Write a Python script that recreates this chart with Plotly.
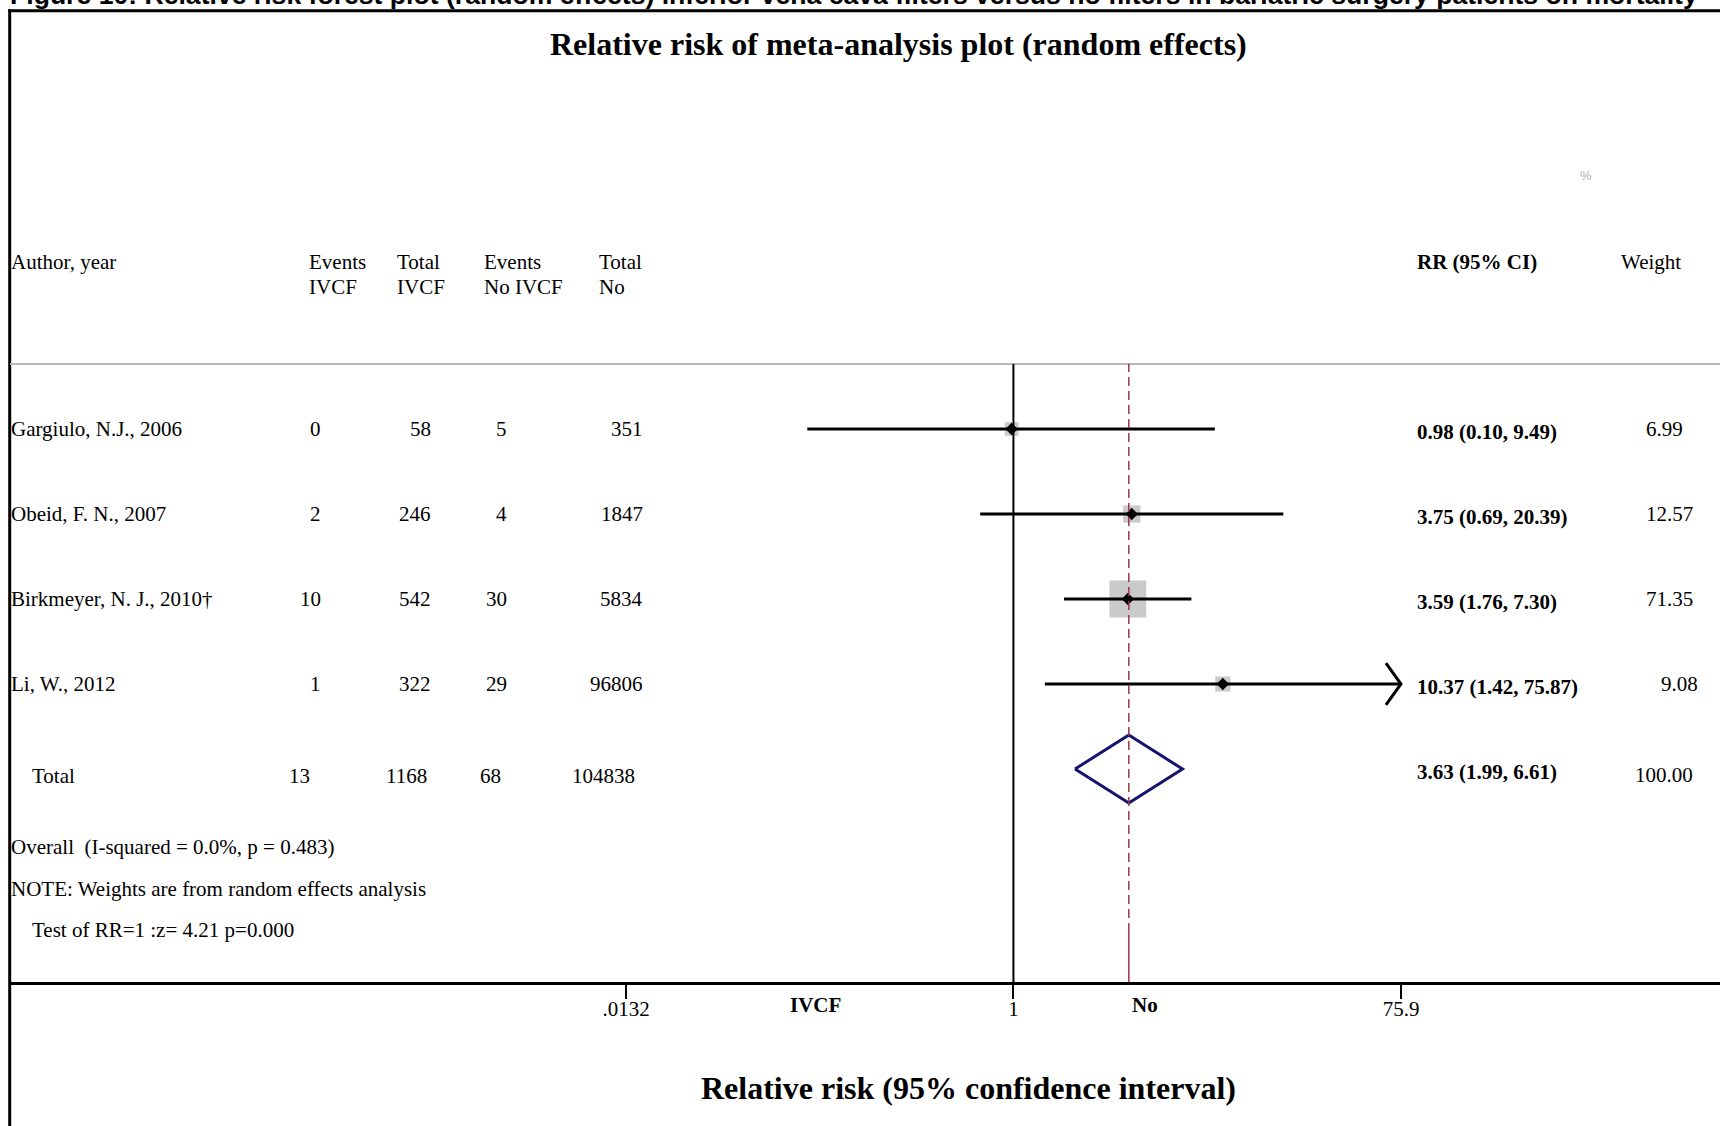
import math
import plotly.graph_objects as go

W, H = 1720, 1126

# ---- study data -------------------------------------------------------------
authors = ["Gargiulo, N.J., 2006", "Obeid, F. N., 2007",
           "Birkmeyer, N. J., 2010\u2020", "Li, W., 2012"]
events_ivcf = [0, 2, 10, 1]
total_ivcf = [58, 246, 542, 322]
events_no = [5, 4, 30, 29]
total_no = [351, 1847, 5834, 96806]
rr = [0.98, 3.75, 3.59, 10.37]
ci_low = [0.10, 0.69, 1.76, 1.42]
ci_high = [9.49, 20.39, 7.30, 75.87]
weights = [6.99, 12.57, 71.35, 9.08]

# ---- pooled (random effects) estimate --------------------------------------
pooled_label = "Total"
pooled_events_ivcf = 13
pooled_total_ivcf = 1168
pooled_events_no = 68
pooled_total_no = 104838
pooled_rr = 3.63
pooled_low = 1.99
pooled_high = 6.61
pooled_weight = 100.00

# ---- axis ticks ---------------------------------------------------------------
axis_ticks = [0.0132, 1, 75.9]
axis_ticktext = [".0132", "1", "75.9"]

SERIF = "Liberation Serif"
SANS = "Liberation Sans"


def px(x):
    return x / W


def py(y):
    return 1 - y / H


# horizontal scale: pixels per log10 unit and position of RR = 1
x_left, x_right = 10, 1720
tick_lo_px, tick_hi_px = 626, 1401
per_dec = (tick_hi_px - tick_lo_px) / (math.log10(axis_ticks[-1]) - math.log10(axis_ticks[0]))
one_px = tick_lo_px - per_dec * math.log10(axis_ticks[0])
x_range = [(x_left - one_px) / per_dec, (x_right - one_px) / per_dec]

# vertical layout: rows of the table
row_top_px, row_step = 429, 85
plot_top_px, plot_bot_px = 364, 982
y_range = [(plot_bot_px - row_top_px) / row_step, (plot_top_px - row_top_px) / row_step]

n = len(authors)
rows = list(range(n))
pooled_row = n

fig = go.Figure()

# weight boxes (area proportional to weight)
fig.add_trace(go.Scatter(
    x=rr, y=rows, mode="markers",
    marker=dict(symbol="square", color="#b4b4b4",
                size=[3 + 4 * math.sqrt(w) for w in weights], line=dict(width=0)),
    hoverinfo="skip"))

# confidence intervals
for k in rows:
    fig.add_trace(go.Scatter(
        x=[ci_low[k], ci_high[k]], y=[k, k], mode="lines",
        line=dict(color="black", width=3), hoverinfo="skip"))
    # open arrow where the interval reaches the edge of the axis
    if ci_high[k] >= axis_ticks[-1] * 0.99:
        back = 10 ** (-15 / per_dec)
        fig.add_trace(go.Scatter(
            x=[ci_high[k] * back, ci_high[k], ci_high[k] * back],
            y=[k - 0.245, k, k + 0.245], mode="lines",
            line=dict(color="black", width=3), hoverinfo="skip"))

# point estimates
fig.add_trace(go.Scatter(
    x=rr, y=rows, mode="markers",
    marker=dict(symbol="diamond", color="black", size=9.5, line=dict(width=0)),
    hoverinfo="skip"))

# pooled diamond
fig.add_trace(go.Scatter(
    x=[pooled_low, pooled_rr, pooled_high, pooled_rr, pooled_low],
    y=[pooled_row, pooled_row - 0.4, pooled_row, pooled_row + 0.4, pooled_row],
    mode="lines", line=dict(color="#14146e", width=3), hoverinfo="skip"))

shapes = [
    # frame
    dict(type="line", xref="paper", yref="paper", x0=px(8.3), x1=1,
         y0=py(10.7), y1=py(10.7), line=dict(color="black", width=3)),
    dict(type="line", xref="paper", yref="paper", x0=px(9.7), x1=px(9.7),
         y0=py(9.3), y1=0, line=dict(color="black", width=3)),
    # separator under the header
    dict(type="line", xref="paper", yref="paper", x0=px(10), x1=1,
         y0=py(364), y1=py(364), line=dict(color="#b8b8b8", width=2)),
    # line of no effect
    dict(type="line", xref="x", yref="paper", x0=1, x1=1,
         y0=py(plot_bot_px), y1=py(plot_top_px), line=dict(color="black", width=2)),
    # pooled estimate line
    dict(type="line", xref="x", yref="paper", x0=pooled_rr, x1=pooled_rr,
         y0=py(932), y1=py(plot_top_px),
         line=dict(color="#9c3444", width=1.5, dash="9px,5px")),
    dict(type="line", xref="x", yref="paper", x0=pooled_rr, x1=pooled_rr,
         y0=py(plot_bot_px), y1=py(932),
         line=dict(color="#9c3444", width=1.5)),
]

ann = []


def text(s, x, y, size=21, anchor="left", yref="paper", color="black",
         family=SERIF, yshift=0):
    ann.append(dict(text=s, x=x, y=y, xref="paper", yref=yref,
                    xanchor=anchor, yanchor="middle", showarrow=False,
                    yshift=yshift,
                    font=dict(family=family, size=size, color=color)))


# caption line above the frame
text("<b>Figure 10: Relative risk forest plot (random effects) inferior vena cava filters "
     "versus no filters in bariatric surgery patients on mortality</b>",
     px(8), py(-4.5), size=26.6, family=SANS)

# titles
text("<b>Relative risk of meta-analysis plot (random effects)</b>", px(898), py(44),
     size=32, anchor="center")
text("<b>Relative risk (95% confidence interval)</b>", px(968), py(1088),
     size=32, anchor="center")

# header
text("%", px(1586), py(175), size=13, anchor="center", color="#b0b0b0", family=SANS)
text("Author, year", px(9), py(262))
for label, xpos in [(("Events", "IVCF"), 307), (("Total", "IVCF"), 395),
                    (("Events", "No IVCF"), 482), (("Total", "No"), 597)]:
    text(label[0], px(xpos), py(262))
    text(label[1], px(xpos), py(287))
text("<b>RR (95% CI)</b>", px(1415), py(262))
text("Weight", px(1619), py(262))

# study rows
weight_right = [1685, 1695, 1695, 1700]
for k in rows:
    text(authors[k], px(9), k, yref="y")
    text(str(events_ivcf[k]), px(323), k, yref="y", anchor="right")
    text(str(total_ivcf[k]), px(433), k, yref="y", anchor="right")
    text(str(events_no[k]), px(509), k, yref="y", anchor="right")
    text(str(total_no[k]), px(645), k, yref="y", anchor="right")
    text(f"<b>{rr[k]:.2f} ({ci_low[k]:.2f}, {ci_high[k]:.2f})</b>", px(1415), k,
         yref="y", yshift=-3)
    text(f"{weights[k]:.2f}", px(weight_right[k]), k, yref="y", anchor="right")

# pooled row
text(pooled_label, px(30), pooled_row, yref="y", yshift=-7)
text(str(pooled_events_ivcf), px(312), pooled_row, yref="y", anchor="right", yshift=-7)
text(str(pooled_total_ivcf), px(429), pooled_row, yref="y", anchor="right", yshift=-7)
text(str(pooled_events_no), px(503), pooled_row, yref="y", anchor="right", yshift=-7)
text(str(pooled_total_no), px(637), pooled_row, yref="y", anchor="right", yshift=-7)
text(f"<b>{pooled_rr:.2f} ({pooled_low:.2f}, {pooled_high:.2f})</b>", px(1415), pooled_row,
     yref="y", yshift=-3)
text(f"{pooled_weight:.2f}", px(1695), pooled_row, yref="y", anchor="right", yshift=-6)

# footnotes
text("Overall  (I-squared = 0.0%, p = 0.483)", px(9), py(847))
text("NOTE: Weights are from random effects analysis", px(9), py(889))
text("Test of RR=1 :z= 4.21 p=0.000", px(30), py(930))

# favours labels under the axis
text("<b>IVCF</b>", px(815), py(1005), anchor="center")
text("<b>No</b>", px(1145), py(1005), anchor="center")

fig.update_layout(
    width=W, height=H,
    margin=dict(l=0, r=0, t=0, b=0),
    paper_bgcolor="white", plot_bgcolor="white",
    showlegend=False,
    shapes=shapes, annotations=ann,
    xaxis=dict(type="log", domain=[px(x_left), 1], range=x_range,
               tickvals=axis_ticks, ticktext=axis_ticktext,
               ticks="outside", ticklen=14, tickwidth=2, tickcolor="black",
               ticklabelstandoff=-8,
               showline=True, linewidth=3, linecolor="black",
               showgrid=False, zeroline=False,
               tickfont=dict(family=SERIF, size=21, color="black")),
    yaxis=dict(domain=[py(plot_bot_px), py(plot_top_px)], range=y_range,
               visible=False, showgrid=False, zeroline=False),
)

fig.write_html("out.html")
